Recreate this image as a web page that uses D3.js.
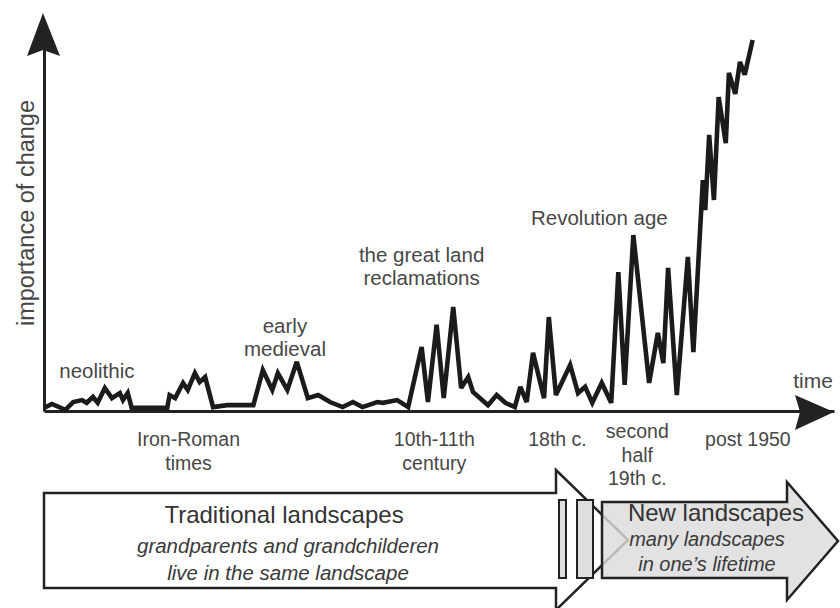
<!DOCTYPE html>
<html>
<head>
<meta charset="utf-8">
<script src="https://cdn.jsdelivr.net/npm/d3@7"></script>
<style>
  body { margin: 0; background: #fff; }
  svg { display: block; font-family: "Liberation Sans", Arial, sans-serif; }
</style>
</head>
<body>
<svg class="chart"></svg>
<script>
// Time position (arbitrary units, 0-100 along the axis) and importance of change (0-100).
var times = [0, 1.0, 2.7, 3.7, 4.8, 5.4, 6.2, 6.8, 7.7, 8.6, 9.6, 10.0, 10.6, 11.1,
    15.6, 15.9, 16.6, 17.6, 18.2, 19.1, 19.7, 20.4, 21.4, 23.2, 24.8, 26.5,
    27.7, 28.9, 29.6, 30.8, 32.0, 33.4, 34.7, 36.2, 37.8, 39.1, 40.3, 42.2, 42.9, 44.7, 46.1,
    47.8, 48.6, 49.7, 50.6, 51.8, 52.8, 53.7, 54.3, 56.2, 57.3, 58.4, 59.6,
    60.3, 61.1, 61.9, 63.3, 63.9, 64.8, 66.6, 67.6, 68.5, 69.4, 70.6, 71.8,
    72.7, 73.5, 74.6, 76.6, 77.7, 78.4, 79.0, 80.1, 81.5, 82.2,
    83.4, 83.7, 84.2, 84.8, 85.4, 86.3, 86.7, 87.5, 88.1, 88.7, 89.7];
var importance = [0.8, 1.8, 0.3, 2.3, 2.8, 2.1, 3.6, 2.1, 5.9, 3.3, 4.6, 2.8, 4.6, 0.8,
    0.8, 4.1, 3.3, 7.2, 5.4, 9.7, 7.4, 8.7, 1.0, 1.5, 1.5, 1.5,
    10.5, 5.4, 9.7, 5.4, 12.6, 3.3, 4.1, 2.3, 1.0, 2.3, 1.0, 2.3, 2.1, 2.8, 1.0,
    16.4, 2.3, 22.1, 3.3, 26.7, 5.9, 8.7, 4.9, 1.5, 4.1, 2.1, 1.0,
    6.2, 2.3, 14.9, 3.3, 24.1, 4.1, 11.8, 4.6, 6.2, 2.1, 7.2, 2.1,
    35.6, 6.7, 45.1, 7.2, 20.0, 12.3, 36.7, 4.1, 39.5, 15.1,
    59.2, 51.5, 70.8, 54.1, 80.5, 68.7, 86.7, 81.3, 89.5, 86.2, 95.1];

// Period names written above the curve, and their time positions.
var upperLabels = [["neolithic"], ["early", "medieval"], ["the great land", "reclamations"], ["Revolution age"]];
var upperTimes = [6.7, 30.5, 47.8, 70.3];
// Period names written below the time axis.
var lowerLabels = [["Iron-Roman", "times"], ["10th-11th", "century"], ["18th c."], ["second", "half", "19th c."], ["post 1950"]];
var lowerTimes = [18.3, 49.4, 65.0, 75.1, 89.1];

var oldTitle = "Traditional landscapes";
var oldNote = ["grandparents and grandchilderen", "live in the same landscape"];
var newTitle = "New landscapes";
var newNote = ["many landscapes", "in one\u2019s lifetime"];

var width = 840, height = 608;
var svg = d3.select(".chart").attr("width", width).attr("height", height);

var x = d3.scaleLinear().domain([0, 100]).range([44, 834]);
var y = d3.scaleLinear().domain([0, 100]).range([411, 21]);

var ink = "#222";
var textGrey = "#474747";

// Axes: plain domain lines, capped by solid arrowheads.
svg.append("g")
    .attr("transform", "translate(0," + y(0) + ")")
    .call(d3.axisBottom(x).tickValues([]).tickSizeOuter(0))
    .select(".domain").attr("stroke", ink).attr("stroke-width", 3);
svg.append("g")
    .attr("transform", "translate(" + x(0) + ",0)")
    .call(d3.axisLeft(y).tickValues([]).tickSizeOuter(0))
    .select(".domain").attr("stroke", ink).attr("stroke-width", 3);

svg.append("path")
    .attr("d", "M43,13 L60,56 L43,50 L27,56 Z")
    .attr("fill", ink);
svg.append("path")
    .attr("d", "M834,412 L795,430 L800,412 L795,395 Z")
    .attr("fill", ink);

svg.append("text")
    .attr("transform", "translate(34,213) rotate(-90)")
    .attr("text-anchor", "middle")
    .attr("font-size", 23.5)
    .attr("fill", textGrey)
    .text("importance of change");
svg.append("text")
    .attr("x", 813).attr("y", 388)
    .attr("text-anchor", "middle")
    .attr("font-size", 21)
    .attr("fill", textGrey)
    .text("time");

// The curve.
var points = times.map(function(t, i) { return [t, importance[i]]; });
var line = d3.line()
    .x(function(d) { return x(d[0]); })
    .y(function(d) { return y(d[1]); });
svg.append("path")
    .datum(points)
    .attr("d", line)
    .attr("fill", "none")
    .attr("stroke", "#1b1b1b")
    .attr("stroke-width", 4.6)
    .attr("stroke-linejoin", "miter")
    .attr("stroke-miterlimit", 3);

// Period labels.
var upperBase = [378, 333, 262, 225];
upperLabels.forEach(function(lines, i) {
    var t = svg.append("text")
        .attr("text-anchor", "middle")
        .attr("font-size", 20.5)
        .attr("fill", textGrey);
    lines.forEach(function(s, j) {
        t.append("tspan").attr("x", x(upperTimes[i])).attr("y", upperBase[i] + j * 23).text(s);
    });
});
var lowerBase = [446, 446, 446, 438, 446];
lowerLabels.forEach(function(lines, i) {
    var t = svg.append("text")
        .attr("text-anchor", "middle")
        .attr("font-size", 19.5)
        .attr("fill", textGrey);
    lines.forEach(function(s, j) {
        t.append("tspan").attr("x", x(lowerTimes[i])).attr("y", lowerBase[i] + j * 23.5).text(s);
    });
});

// Bottom band: traditional landscapes arrow, two transition bars, new landscapes arrow.
svg.append("path")
    .attr("d", "M44,493 L556,493 L556,470 L628,540 L556,610 L556,588 L44,588 Z")
    .attr("fill", "#fff")
    .attr("stroke", ink)
    .attr("stroke-width", 2.5)
    .attr("stroke-linejoin", "miter");

[[559, 566], [577, 593]].forEach(function(b) {
    svg.append("rect")
        .attr("x", b[0]).attr("y", 500)
        .attr("width", b[1] - b[0]).attr("height", 78)
        .attr("fill", "#dedede")
        .attr("stroke", ink)
        .attr("stroke-width", 2);
});

svg.append("path")
    .attr("d", "M602,502 L787,502 L787,482 L838,541 L787,600 L787,578 L602,578 Z")
    .attr("fill", "#dcdcdc")
    .attr("fill-opacity", 0.82)
    .attr("stroke", ink)
    .attr("stroke-width", 2.5)
    .attr("stroke-linejoin", "miter");

svg.append("text")
    .attr("x", 284).attr("y", 523)
    .attr("text-anchor", "middle")
    .attr("font-size", 24)
    .attr("fill", "#333")
    .text(oldTitle);
oldNote.forEach(function(s, j) {
    svg.append("text")
        .attr("x", 288).attr("y", 553 + j * 27)
        .attr("text-anchor", "middle")
        .attr("font-size", 20.5)
        .attr("font-style", "italic")
        .attr("fill", "#3a3a3a")
        .text(s);
});

svg.append("text")
    .attr("x", 716).attr("y", 521)
    .attr("text-anchor", "middle")
    .attr("font-size", 24)
    .attr("fill", "#333")
    .text(newTitle);
newNote.forEach(function(s, j) {
    svg.append("text")
        .attr("x", 707).attr("y", 546 + j * 25)
        .attr("text-anchor", "middle")
        .attr("font-size", 20)
        .attr("font-style", "italic")
        .attr("fill", "#3a3a3a")
        .text(s);
});
</script>
</body>
</html>
